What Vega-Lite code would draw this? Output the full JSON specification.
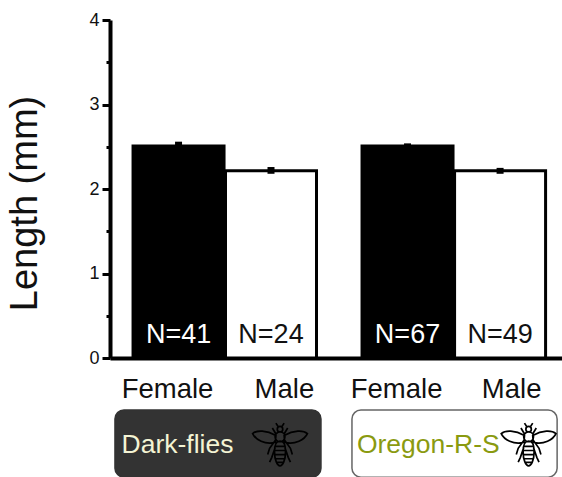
{
"$schema":"https://vega.github.io/schema/vega-lite/v6.json",
"width":452,"height":338,
"autosize":{"type":"none"},
"padding":{"left":110,"top":20,"right":0,"bottom":119},
"background":"white",
"config":{"view":{"stroke":null},"font":"Liberation Sans"},
"datasets":{
"bars":[
{"group":"Dark-flies","sex":"Male","pos":1.75,"length":2.215,"low":2.18,"high":2.26,"label":"N=24"},
{"group":"Dark-flies","sex":"Female","pos":0.745,"length":2.51,"low":2.5,"high":2.56,"label":"N=41"},
{"group":"Oregon-R-S","sex":"Male","pos":4.24,"length":2.215,"low":2.18,"high":2.25,"label":"N=49"},
{"group":"Oregon-R-S","sex":"Female","pos":3.234,"length":2.51,"low":2.5,"high":2.54,"label":"N=67"}
],
"panels":[
{"group":"Dark-flies","start":0.054,"end":2.293,"top":-0.615,"bottom":-1.41,"textPos":0.734,"flyPos":1.848,"mid":-1.03},
{"group":"Oregon-R-S","start":2.63,"end":4.86,"top":-0.615,"bottom":-1.41,"textPos":3.46,"flyPos":4.55,"mid":-1.03}
]
},
"resolve":{"scale":{"fill":"independent","color":"independent","stroke":"independent"}},
"layer":[
{"data":{"name":"bars"},
"mark":{"type":"bar","width":91,"stroke":"black","strokeWidth":3,"clip":false},
"encoding":{
"x":{"field":"pos","type":"quantitative","scale":{"domain":[0,4.913],"nice":false,"zero":false,"padding":0},
"axis":{"title":null,"values":[0.62,1.89,3.11,4.36],"labelExpr":"datum.value<1||(datum.value>3&&datum.value<4)?'Female':'Male'","tickSize":0,"domainWidth":4,"domainColor":"black","labelFontSize":27.5,"labelColor":"#111","labelPadding":17,"grid":false,"labelFlush":false,"labelOverlap":false}},
"y":{"field":"length","type":"quantitative","scale":{"domain":[0,4],"nice":false},
"axis":{"title":"Length (mm)","titleFontSize":38,"titleFontWeight":"normal","titleColor":"#111","titlePadding":44,"titleY":183,"values":[0,0.5,1,1.5,2,2.5,3,3.5,4],"labelExpr":"datum.value%1==0?datum.value:''","tickSize":{"condition":{"test":"datum.value%1==0","value":8},"value":4},"tickWidth":3,"tickColor":"black","domainWidth":4,"domainColor":"black","labelFontSize":18,"labelColor":"#111","labelPadding":3,"grid":false}},
"fill":{"field":"sex","type":"nominal","scale":{"domain":["Female","Male"],"range":["black","white"]},"legend":null}
}},
{"data":{"name":"bars"},
"mark":{"type":"rule","strokeWidth":7,"color":"black"},
"encoding":{"x":{"field":"pos","type":"quantitative"},"y":{"field":"low","type":"quantitative"},"y2":{"field":"high"}}},
{"data":{"name":"bars"},
"mark":{"type":"text","fontSize":27,"align":"center","baseline":"middle"},
"encoding":{"x":{"field":"pos","type":"quantitative"},"y":{"datum":0.27,"type":"quantitative"},"text":{"field":"label"},
"color":{"field":"sex","type":"nominal","scale":{"domain":["Female","Male"],"range":["white","#111"]},"legend":null}}},
{"data":{"name":"panels"},
"mark":{"type":"rect","cornerRadius":9,"strokeWidth":1.5,"clip":false},
"encoding":{"x":{"field":"start","type":"quantitative"},"x2":{"field":"end"},"y":{"field":"top","type":"quantitative"},"y2":{"field":"bottom"},
"fill":{"field":"group","type":"nominal","scale":{"domain":["Dark-flies","Oregon-R-S"],"range":["#333333","white"]},"legend":null},
"stroke":{"field":"group","type":"nominal","scale":{"domain":["Dark-flies","Oregon-R-S"],"range":["#333333","#666666"]},"legend":null}}},
{"data":{"name":"panels"},
"mark":{"type":"text","fontSize":26.5,"align":"center","baseline":"middle"},
"encoding":{"x":{"field":"textPos","type":"quantitative"},"y":{"field":"mid","type":"quantitative"},"text":{"field":"group"},
"color":{"field":"group","type":"nominal","scale":{"domain":["Dark-flies","Oregon-R-S"],"range":["#f4f4d4","#8a9a10"]},"legend":null}}},
{"data":{"name":"panels"},
"mark":{"type":"point","size":3000,"filled":false,"opacity":1,"strokeWidth":1.7,"stroke":"black","fill":null,"clip":false,
"shape":"M-0.15 -0.35C-0.5 -0.55 -0.85 -0.55 -1 -0.42C-0.9 -0.2 -0.55 0 -0.17 -0.1ZM0.15 -0.35C0.5 -0.55 0.85 -0.55 1 -0.42C0.9 -0.2 0.55 0 0.17 -0.1ZM-0.1 -0.58a0.1 0.1 0 1 0 0.2 0a0.1 0.1 0 1 0 -0.2 0ZM-0.18 -0.3a0.18 0.18 0 1 0 0.36 0a0.18 0.18 0 1 0 -0.36 0ZM-0.2 0.25C-0.2 -0.1 -0.1 -0.14 0 -0.14C0.1 -0.14 0.2 -0.1 0.2 0.25C0.2 0.55 0.1 0.76 0 0.76C-0.1 0.76 -0.2 0.55 -0.2 0.25ZM-0.19 0.05L0.19 0.05M-0.2 0.2L0.2 0.2M-0.2 0.35L0.2 0.35M-0.18 0.5L0.18 0.5M-0.12 0.63L0.12 0.63M-0.06 -0.66L-0.15 -0.8M0.06 -0.66L0.15 -0.8M-0.16 -0.42L-0.28 -0.62M0.16 -0.42L0.28 -0.62M-0.15 -0.2L-0.38 0.12L-0.45 0.35M0.15 -0.2L0.38 0.12L0.45 0.35M-0.18 0.1L-0.3 0.45L-0.38 0.62M0.18 0.1L0.3 0.45L0.38 0.62"},
"encoding":{"x":{"field":"flyPos","type":"quantitative"},"y":{"field":"mid","type":"quantitative"}}}
]
}
